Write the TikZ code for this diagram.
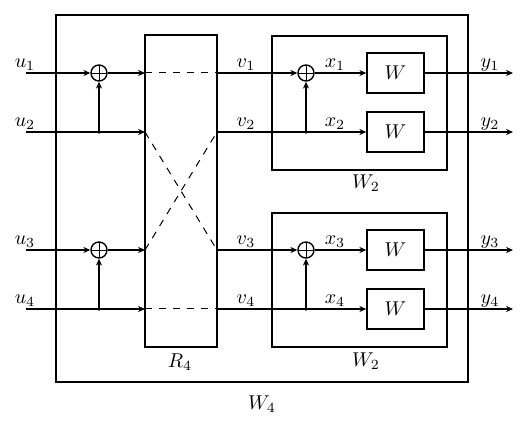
\documentclass[tikz,border=0pt]{standalone}
\usetikzlibrary{arrows.meta}
\begin{document}
\begin{tikzpicture}[x=0.5pt,y=-0.5pt,
  every node/.style={inner sep=0pt},
  ln/.style={line width=0.6pt},
  arr/.style={ln,-{Stealth[length=3.4pt,width=3pt,inset=1pt]}},
  dsh/.style={line width=0.5pt,dash pattern=on 3.6pt off 3.4pt},
  frame/.style={draw,line width=0.7pt,rectangle},
  wbox/.style={draw,line width=0.7pt,rectangle,minimum width=28.5pt,minimum height=20pt},
  sumc/.style={draw,line width=0.7pt,circle,minimum size=8pt,
    path picture={\draw[line width=0.4pt] (path picture bounding box.north) -- (path picture bounding box.south)
      (path picture bounding box.west) -- (path picture bounding box.east);}},
  bdot/.style={circle,fill,minimum size=1.8pt},
  lbl/.style={}]
\useasboundingbox (0,0) rectangle (527,423);
% frames
\node[frame,minimum width=206pt,minimum height=183.5pt] (W4) at (262,198.5) {};
\node[frame,minimum width=36pt,minimum height=156pt] (R4) at (181,191) {};
\node[frame,minimum width=87.5pt,minimum height=67pt] (W2a) at (359.5,103) {};
\node[frame,minimum width=87.5pt,minimum height=67pt] (W2b) at (359.5,280) {};
% labels of frames
\node[lbl] (lW4) at (262,404) {$W_4$};
\node[lbl] (lR4) at (180,362) {$R_4$};
\node[lbl] (lW2a) at (366,183) {$W_2$};
\node[lbl] (lW2b) at (366,361) {$W_2$};
% input coordinates
\coordinate (u1) at (26,73);
\coordinate (u2) at (26,132);
\coordinate (u3) at (26,250);
\coordinate (u4) at (26,309);
% sum junctions left
\node[sumc] (s1) at (99,73) {};
\node[sumc] (s3) at (99,250) {};
\node[bdot] (b2) at (99,132) {};
\node[bdot] (b4) at (99,309) {};
% R4 edge points
\coordinate (r1l) at (145,73);  \coordinate (r1r) at (217,73);
\coordinate (r2l) at (145,132); \coordinate (r2r) at (217,132);
\coordinate (r3l) at (145,250); \coordinate (r3r) at (217,250);
\coordinate (r4l) at (145,309); \coordinate (r4r) at (217,309);
% right junctions
\node[sumc] (t1) at (306,73) {};
\node[sumc] (t3) at (306,250) {};
\node[bdot] (c2) at (306,132) {};
\node[bdot] (c4) at (306,309) {};
% W boxes
\node[wbox] (w1) at (395.5,73) {$W$};
\node[wbox] (w2) at (395.5,132) {$W$};
\node[wbox] (w3) at (395.5,250) {$W$};
\node[wbox] (w4) at (395.5,309) {$W$};
% outputs
\coordinate (y1) at (513,73);
\coordinate (y2) at (513,132);
\coordinate (y3) at (513,250);
\coordinate (y4) at (513,309);
% left connectors
\draw[arr] (u1) -- (s1);
\draw[arr] (s1) -- (r1l);
\draw[arr] (u2) -- (r2l);
\draw[arr] (b2.center) -- (s1);
\draw[arr] (u3) -- (s3);
\draw[arr] (s3) -- (r3l);
\draw[arr] (u4) -- (r4l);
\draw[arr] (b4.center) -- (s3);
% inside R4
\draw[dsh] (r1l) -- (r1r);
\draw[dsh] (r4l) -- (r4r);
\draw[dsh] (r2l) -- (r3r);
\draw[dsh] (r3l) -- (r2r);
% right connectors
\draw[arr] (r1r) -- (t1);
\draw[arr] (t1) -- (w1);
\draw[arr] (r2r) -- (w2);
\draw[arr] (c2.center) -- (t1);
\draw[arr] (r3r) -- (t3);
\draw[arr] (t3) -- (w3);
\draw[arr] (r4r) -- (w4);
\draw[arr] (c4.center) -- (t3);
\draw[arr] (w1) -- (y1);
\draw[arr] (w2) -- (y2);
\draw[arr] (w3) -- (y3);
\draw[arr] (w4) -- (y4);
% signal labels
\node[lbl] (lu1) at (25,65) {$u_1$};
\node[lbl] (lu2) at (25,124) {$u_2$};
\node[lbl] (lu3) at (25,242) {$u_3$};
\node[lbl] (lu4) at (25,301) {$u_4$};
\node[lbl] (lv1) at (246,65) {$v_1$};
\node[lbl] (lv2) at (246,124) {$v_2$};
\node[lbl] (lv3) at (246,242) {$v_3$};
\node[lbl] (lv4) at (246,301) {$v_4$};
\node[lbl] (lx1) at (335,65) {$x_1$};
\node[lbl] (lx2) at (335,124) {$x_2$};
\node[lbl] (lx3) at (335,242) {$x_3$};
\node[lbl] (lx4) at (335,301) {$x_4$};
\node[lbl] (ly1) at (490,65) {$y_1$};
\node[lbl] (ly2) at (490,124) {$y_2$};
\node[lbl] (ly3) at (490,242) {$y_3$};
\node[lbl] (ly4) at (490,301) {$y_4$};
\end{tikzpicture}
\end{document}
